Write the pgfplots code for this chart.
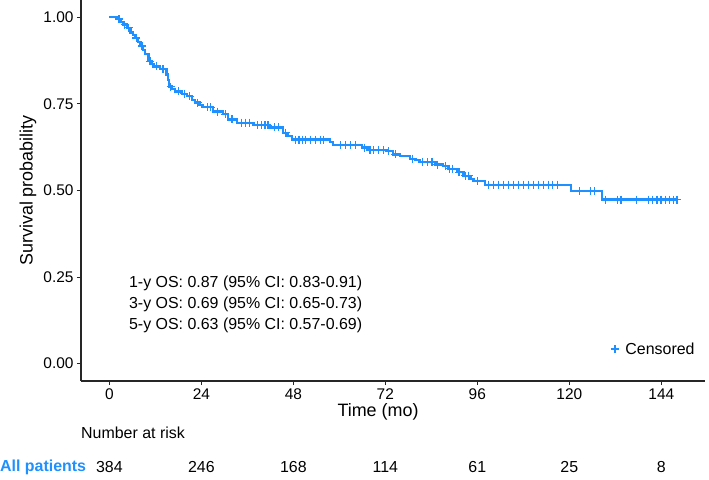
\documentclass[border=0pt]{standalone}
\usepackage{fontspec}
\setmainfont{Liberation Sans}
\usepackage{pgfplots}
\pgfplotsset{compat=1.18}
\definecolor{kmblue}{RGB}{30,144,255}
\newcommand{\fs}{\fontsize{15.5}{18}\selectfont}
\newcommand{\ft}{\fontsize{16}{19}\selectfont}
\newcommand{\fl}{\fontsize{18}{21}\selectfont}
\begin{document}
\begin{tikzpicture}
\useasboundingbox (0,0) rectangle (709bp,480bp);
\begin{axis}[
  at={(81bp,99bp)}, anchor=south west,
  width=624bp, height=381bp, scale only axis,
  xmin=-7.4, xmax=155.4, ymin=-0.05, ymax=1.05,
  axis x line*=bottom, axis y line*=left,
  axis line style={line width=1.1bp, black!85, -},
  xtick={0,24,48,72,96,120,144},
  ytick={0,0.25,0.5,0.75,1},
  /pgf/number format/assume math mode=true,
  yticklabel style={/pgf/number format/.cd, fixed, fixed zerofill, precision=2},
  tick style={black!85, line width=1.1bp},
  tick align=outside, major tick length=4bp,
  ticklabel style={font=\fs},
  xlabel={Time (mo)}, ylabel={Survival probability},
  label style={font=\fl},
  xlabel style={at={(axis description cs:0.476,-0.0814)}, anchor=center},
  ylabel style={at={(axis description cs:-0.085,0.5)}, anchor=center},
  clip=false,
  legend style={at={(axis description cs:0.849,0.084)}, anchor=west, draw=none, fill=none, font=\ft, inner sep=0pt},
  legend cell align=left,
  legend image code/.code={\draw[#1] plot coordinates {(0.15cm,0cm)};},
]
\addplot[const plot, kmblue, line width=2.2bp, mark=none, forget plot] coordinates {
(0,1.000) (2.0,0.995) (3.0,0.987) (3.7,0.979) (4.5,0.970) (5.5,0.956) (6.2,0.948)
(6.8,0.940) (7.5,0.928) (8.1,0.917) (8.8,0.905) (9.4,0.893) (10.2,0.873) (11.0,0.865)
(11.5,0.858) (13.3,0.850) (14.9,0.835) (15.3,0.818) (15.6,0.800) (16.4,0.793) (17.2,0.786)
(19.0,0.779) (20.3,0.772) (21.5,0.762) (22.4,0.754) (23.5,0.747) (24.3,0.740) (27.1,0.728)
(29.7,0.720) (31.0,0.705) (33.4,0.696) (37.6,0.688) (42.0,0.682) (45.4,0.667) (46.5,0.657)
(47.7,0.647) (57.5,0.640) (58.4,0.631) (66.0,0.624) (67.6,0.617) (72.5,0.613) (74.1,0.604)
(75.9,0.599) (78.5,0.592) (79.8,0.587) (81.1,0.582) (85.1,0.575) (87.1,0.570) (88.4,0.563)
(90.8,0.553) (92.4,0.543) (94.2,0.534) (95.0,0.527) (98.1,0.517) (120.5,0.498) (128.5,0.474)
(148.1,0.474)
};
\addplot[only marks, mark=+, kmblue, mark size=4bp, mark options={line width=1.2bp}] coordinates {
(2.5,0.995) (4.0,0.979) (5.0,0.970) (7.0,0.940) (8.5,0.917) (10.6,0.873) (12.3,0.858)
(14.0,0.850) (16.0,0.800) (18.0,0.786) (19.6,0.779) (21.0,0.772) (23.0,0.754) (25.5,0.740)
(26.4,0.740) (28.2,0.728) (30.2,0.720) (32.0,0.705) (34.5,0.696) (35.6,0.696) (36.6,0.696)
(38.6,0.688) (39.6,0.688) (40.6,0.688) (41.4,0.688) (43.0,0.682) (44.2,0.682) (46.0,0.667)
(48.6,0.647) (49.5,0.647) (50.3,0.647) (51.1,0.647) (52.4,0.647) (53.7,0.647) (55.0,0.647)
(55.8,0.647) (60.3,0.631) (61.6,0.631) (62.9,0.631) (64.2,0.631) (66.6,0.624) (68.0,0.617)
(68.9,0.617) (70.2,0.617) (71.5,0.617) (72.9,0.613) (74.6,0.604) (79.1,0.592) (81.6,0.582)
(82.9,0.582) (84.2,0.582) (85.6,0.575) (87.7,0.570) (88.8,0.563) (89.6,0.563) (91.2,0.553)
(92.9,0.543) (93.8,0.543) (96.0,0.527) (98.9,0.517) (100.2,0.517) (101.5,0.517) (102.8,0.517)
(104.1,0.517) (105.4,0.517) (106.7,0.517) (108.0,0.517) (109.3,0.517) (110.6,0.517)
(111.9,0.517) (113.2,0.517) (114.5,0.517) (115.6,0.517) (116.9,0.517) (122.6,0.498)
(125.5,0.498) (126.5,0.498) (129.4,0.474) (132.5,0.474) (133.5,0.474) (137.5,0.474)
(140.7,0.474) (141.8,0.474) (142.9,0.474) (143.9,0.474) (145.1,0.474) (146.2,0.474)
(147.2,0.474) (148.1,0.474)
};
\addlegendentry{\hspace{4.5bp}Censored}
\node[anchor=west, inner sep=0pt, font=\ft] at (axis cs:5.1,0.233) {1-y OS: 0.87 (95\% CI: 0.83-0.91)};
\node[anchor=west, inner sep=0pt, font=\ft] at (axis cs:5.1,0.170) {3-y OS: 0.69 (95\% CI: 0.65-0.73)};
\node[anchor=west, inner sep=0pt, font=\ft] at (axis cs:5.1,0.110) {5-y OS: 0.63 (95\% CI: 0.57-0.69)};
\node[anchor=center, inner sep=0pt, font=\ft] at (axis cs:0,-0.298) {384};
\node[anchor=center, inner sep=0pt, font=\ft] at (axis cs:24,-0.298) {246};
\node[anchor=center, inner sep=0pt, font=\ft] at (axis cs:48,-0.298) {168};
\node[anchor=center, inner sep=0pt, font=\ft] at (axis cs:72,-0.298) {114};
\node[anchor=center, inner sep=0pt, font=\ft] at (axis cs:96,-0.298) {61};
\node[anchor=center, inner sep=0pt, font=\ft] at (axis cs:120,-0.298) {25};
\node[anchor=center, inner sep=0pt, font=\ft] at (axis cs:144,-0.298) {8};
\end{axis}
\node[anchor=west, inner sep=0pt, font=\ft] at (81bp,47bp) {Number at risk};
\node[anchor=west, inner sep=0pt, font=\ft\bfseries, text=kmblue] at (0bp,13bp) {All patients};
\end{tikzpicture}
\end{document}
